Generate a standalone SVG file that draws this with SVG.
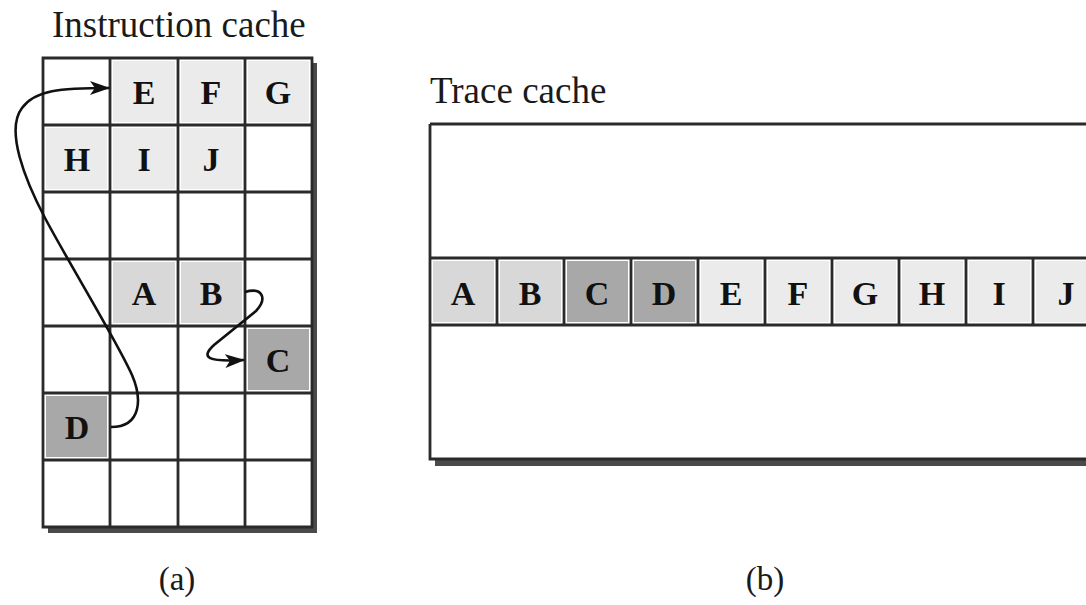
<svg xmlns="http://www.w3.org/2000/svg" width="1086" height="605" viewBox="0 0 1086 605">
<style>
.title{font-family:"Liberation Serif","Times New Roman",serif;font-size:37px;fill:#1a1a1a}
.sub{font-family:"Liberation Serif","Times New Roman",serif;font-size:33px;fill:#1a1a1a;text-anchor:middle}
.lbl{font-family:"Liberation Serif","Times New Roman",serif;font-size:34px;font-weight:bold;fill:#111;text-anchor:middle}
.grid{fill:none;stroke:#2a2a2a;stroke-width:2.8}
.shadow{fill:#4a4a4a}
.lt{fill:#ebebeb}
.md{fill:#d8d8d8}
.dk{fill:#a8a8a8}
.conn{fill:none;stroke:#111;stroke-width:2.6}
</style>
<defs>
<marker id="ah" viewBox="0 0 20 14" refX="19" refY="7" markerWidth="20" markerHeight="14" markerUnits="userSpaceOnUse" orient="auto">
<path d="M0,0 L20,7 L0,14 L5,7 Z" fill="#111"/>
</marker>
</defs>
<rect width="1086" height="605" fill="#fff"/>

<text class="title" x="52" y="37">Instruction cache</text>
<text class="title" x="430" y="103">Trace cache</text>
<text class="sub" x="177" y="590">(a)</text>
<text class="sub" x="765" y="590">(b)</text>

<g id="instruction-cache">
<rect class="shadow" x="48" y="63" width="269" height="470"/>
<rect x="43" y="58" width="269" height="469" fill="#fff"/>
<g id="ic-E"><rect class="lt" x="113" y="61" width="62" height="61"/><text class="lbl" x="144" y="104">E</text></g>
<g id="ic-F"><rect class="lt" x="181" y="61" width="61" height="61"/><text class="lbl" x="211" y="104">F</text></g>
<g id="ic-G"><rect class="lt" x="248" y="61" width="61" height="61"/><text class="lbl" x="278" y="104">G</text></g>
<g id="ic-H"><rect class="lt" x="46" y="128" width="61" height="61"/><text class="lbl" x="77" y="171">H</text></g>
<g id="ic-I"><rect class="lt" x="113" y="128" width="62" height="61"/><text class="lbl" x="144" y="171">I</text></g>
<g id="ic-J"><rect class="lt" x="181" y="128" width="61" height="61"/><text class="lbl" x="211" y="171">J</text></g>
<g id="ic-A"><rect class="md" x="113" y="262" width="62" height="61"/><text class="lbl" x="144" y="305">A</text></g>
<g id="ic-B"><rect class="md" x="181" y="262" width="61" height="61"/><text class="lbl" x="211" y="305">B</text></g>
<g id="ic-C"><rect class="dk" x="248" y="329" width="61" height="61"/><text class="lbl" x="278" y="372">C</text></g>
<g id="ic-D"><rect class="dk" x="46" y="396" width="61" height="61"/><text class="lbl" x="77" y="439">D</text></g>
<path class="grid" d="M43,58 H312 V527 H43 Z M110,58 V527 M178,58 V527 M245,58 V527 M43,125 H312 M43,192 H312 M43,259 H312 M43,326 H312 M43,393 H312 M43,460 H312"/>
</g>

<g id="trace-cache">
<rect class="shadow" x="435" y="129" width="670" height="337"/>
<rect x="430" y="124" width="670" height="335" fill="#fff"/>
<g id="tc-A"><rect class="md" x="433" y="261" width="61" height="61"/><text class="lbl" x="463" y="305">A</text></g>
<g id="tc-B"><rect class="md" x="500" y="261" width="61" height="61"/><text class="lbl" x="530" y="305">B</text></g>
<g id="tc-C"><rect class="dk" x="567" y="261" width="61" height="61"/><text class="lbl" x="597" y="305">C</text></g>
<g id="tc-D"><rect class="dk" x="634" y="261" width="61" height="61"/><text class="lbl" x="664" y="305">D</text></g>
<g id="tc-E"><rect class="lt" x="701" y="261" width="61" height="61"/><text class="lbl" x="731" y="305">E</text></g>
<g id="tc-F"><rect class="lt" x="768" y="261" width="61" height="61"/><text class="lbl" x="798" y="305">F</text></g>
<g id="tc-G"><rect class="lt" x="835" y="261" width="61" height="61"/><text class="lbl" x="865" y="305">G</text></g>
<g id="tc-H"><rect class="lt" x="902" y="261" width="61" height="61"/><text class="lbl" x="932" y="305">H</text></g>
<g id="tc-I"><rect class="lt" x="969" y="261" width="61" height="61"/><text class="lbl" x="999" y="305">I</text></g>
<g id="tc-J"><rect class="lt" x="1036" y="261" width="61" height="61"/><text class="lbl" x="1066" y="305">J</text></g>
<path class="grid" d="M430,124 H1100 M430,124 V459 H1100 M430,258 H1100 M430,325 H1100 M497,258 V325 M564,258 V325 M631,258 V325 M698,258 V325 M765,258 V325 M832,258 V325 M899,258 V325 M966,258 V325 M1033,258 V325"/>
</g>

<g id="connectors">
<path class="conn" marker-end="url(#ah)" d="M111,427 C142,427 142,398 132,375 C118,343 70,265 45,218 C25,180 5,130 22,108 C35,90 60,88 109,88"/>
<path class="conn" marker-end="url(#ah)" d="M245,292 C262,287 268,298 256,311 L214,345 C200,358 208,362 244,360"/>
</g>
</svg>
